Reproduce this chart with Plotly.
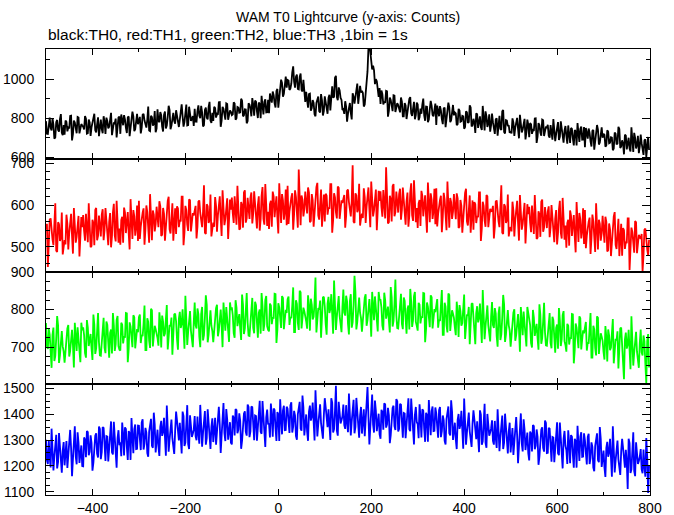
import plotly.graph_objects as go
from plotly.subplots import make_subplots

# Time axis: counts every 2 s.
# "_a" lists hold the values at t = -500, -496, ..., 796; "_b" lists those at t + 2 s.
t_start = -500
t_step = 2

th0_a = [
    785, 719, 803, 737, 767, 701, 791, 731, 821, 713,
    716, 782, 752, 812, 686, 788, 740, 806, 722, 770,
    757, 811, 721, 793, 709, 781, 823, 727, 805, 739,
    744, 810, 720, 786, 756, 828, 738, 774, 702, 804,
    720, 792, 816, 750, 804, 708, 786, 810, 744, 822,
    794, 722, 818, 788, 752, 860, 734, 806, 770, 728,
    846, 780, 816, 732, 834, 762, 864, 744, 810, 786,
    841, 775, 793, 871, 757, 829, 763, 859, 787, 811,
    848, 782, 866, 800, 830, 764, 854, 794, 884, 776,
    786, 852, 822, 882, 756, 858, 810, 876, 792, 840,
    816, 882, 792, 858, 828, 900, 810, 846, 774, 876,
    849, 903, 813, 885, 801, 873, 915, 819, 897, 831,
    826, 903, 937, 876, 940, 854, 942, 981, 925, 1013,
    996, 945, 978, 1066, 957, 1024, 948, 1029, 937, 936,
    935, 854, 926, 852, 878, 810, 898, 836, 924, 814,
    912, 854, 904, 840, 964, 910, 1017, 892, 943, 894,
    846, 887, 782, 844, 828, 928, 875, 941, 874, 966,
    940, 860, 930, 1040, 1180, 1085, 1070, 975, 990, 910,
    873, 924, 886, 940, 808, 906, 855, 918, 832, 877,
    854, 906, 810, 878, 796, 866, 908, 812, 884, 816,
    871, 805, 823, 901, 787, 859, 793, 889, 817, 841,
    766, 838, 862, 796, 850, 754, 832, 856, 790, 868,
    830, 764, 848, 782, 812, 746, 836, 776, 866, 758,
    797, 725, 821, 791, 755, 863, 737, 809, 773, 731,
    824, 758, 794, 710, 812, 740, 842, 722, 788, 764,
    733, 799, 709, 775, 745, 817, 727, 763, 691, 793,
    703, 769, 739, 799, 673, 775, 727, 793, 709, 757,
    766, 700, 718, 796, 682, 754, 688, 784, 712, 736,
    709, 763, 673, 745, 661, 733, 775, 679, 757, 691,
    651, 723, 747, 681, 735, 639, 717, 741, 675, 753,
    720, 654, 738, 672, 702, 636, 726, 666, 756, 648,
    687, 615, 711, 681, 645, 753, 627, 699, 663, 621,
    716, 650, 686, 602, 704,
]
th0_b = [
    720, 775, 750, 800, 695, 780, 740, 795, 725, 765,
    788, 733, 748, 813, 718, 778, 723, 803, 743, 763,
    743, 798, 723, 778, 753, 813, 738, 768, 708, 793,
    723, 783, 803, 748, 793, 713, 778, 798, 743, 808,
    819, 764, 794, 724, 809, 749, 834, 734, 789, 769,
    807, 752, 822, 767, 792, 737, 812, 762, 837, 747,
    787, 832, 757, 817, 747, 807, 842, 762, 827, 772,
    815, 755, 835, 810, 780, 870, 765, 825, 795, 760,
    783, 838, 813, 863, 758, 843, 803, 858, 788, 828,
    858, 803, 818, 883, 788, 848, 793, 873, 813, 833,
    820, 875, 800, 855, 830, 890, 815, 845, 785, 870,
    810, 870, 890, 835, 880, 800, 865, 885, 830, 895,
    927, 880, 918, 855, 950, 900, 998, 910, 975, 957,
    993, 952, 1035, 988, 1013, 950, 1012, 945, 997, 883,
    893, 924, 839, 893, 820, 878, 911, 829, 892, 837,
    872, 823, 920, 916, 906, 1008, 908, 958, 905, 842,
    822, 858, 824, 878, 794, 911, 905, 978, 908, 932,
    930, 870, 1010, 1160, 1140, 1050, 1045, 1000, 935, 955,
    942, 871, 879, 938, 838, 894, 836, 916, 852, 868,
    830, 885, 810, 865, 840, 900, 825, 855, 795, 880,
    790, 850, 870, 815, 860, 780, 845, 865, 810, 875,
    865, 810, 840, 770, 855, 795, 880, 780, 835, 815,
    825, 770, 840, 785, 810, 755, 830, 780, 855, 765,
    780, 825, 750, 810, 740, 800, 835, 755, 820, 765,
    780, 720, 800, 775, 745, 835, 730, 790, 760, 725,
    722, 777, 752, 802, 697, 782, 742, 797, 727, 767,
    775, 720, 735, 800, 705, 765, 710, 790, 730, 750,
    710, 765, 690, 745, 720, 780, 705, 735, 675, 760,
    670, 730, 750, 695, 740, 660, 725, 745, 690, 755,
    750, 695, 725, 655, 740, 680, 765, 665, 720, 700,
    715, 660, 730, 675, 700, 645, 720, 670, 745, 655,
    670, 715, 640, 700, 630, 690, 725, 645, 710, 655,
    672, 612, 692, 667, 637,
]

th1_a = [
    543, 452, 565, 538, 504, 604, 488, 554, 521, 482,
    516, 577, 494, 555, 527, 593, 510, 544, 477, 571,
    576, 515, 532, 604, 499, 565, 504, 593, 526, 549,
    577, 516, 593, 532, 560, 499, 582, 527, 610, 510,
    505, 572, 594, 533, 583, 494, 566, 588, 527, 599,
    610, 549, 582, 505, 599, 532, 626, 516, 577, 554,
    559, 609, 526, 593, 515, 582, 620, 532, 604, 543,
    531, 592, 564, 620, 504, 598, 553, 614, 537, 581,
    586, 520, 608, 581, 547, 647, 531, 597, 564, 525,
    558, 619, 536, 597, 569, 635, 552, 586, 519, 613,
    618, 557, 574, 646, 541, 607, 546, 635, 568, 591,
    617, 556, 633, 572, 600, 539, 622, 567, 650, 550,
    543, 610, 632, 571, 621, 532, 604, 626, 565, 637,
    646, 585, 618, 541, 635, 568, 685, 552, 613, 590,
    592, 642, 559, 626, 548, 615, 653, 565, 637, 576,
    561, 622, 594, 650, 534, 628, 583, 644, 567, 611,
    612, 546, 634, 607, 573, 695, 557, 623, 590, 551,
    579, 640, 557, 618, 590, 656, 573, 607, 540, 634,
    633, 572, 589, 690, 556, 622, 561, 650, 583, 606,
    626, 565, 642, 581, 609, 548, 631, 576, 659, 559,
    545, 612, 634, 573, 623, 534, 606, 628, 567, 639,
    640, 579, 612, 535, 629, 562, 656, 546, 607, 584,
    578, 628, 545, 612, 534, 601, 639, 551, 623, 562,
    541, 602, 574, 630, 514, 608, 563, 624, 547, 591,
    586, 520, 608, 581, 547, 647, 531, 597, 564, 525,
    547, 608, 525, 586, 558, 624, 541, 575, 508, 602,
    596, 535, 552, 624, 519, 585, 524, 613, 546, 569,
    584, 523, 600, 539, 567, 506, 589, 534, 617, 517,
    498, 565, 587, 526, 576, 487, 559, 581, 520, 592,
    588, 527, 560, 483, 577, 510, 604, 494, 555, 532,
    522, 572, 489, 556, 478, 545, 583, 495, 567, 506,
    479, 540, 512, 568, 445, 546, 501, 562, 485, 529,
    519, 442, 541, 514, 480,
]
th1_b = [
    555, 505, 568, 518, 541, 491, 559, 514, 582, 500,
    506, 556, 533, 579, 484, 561, 524, 574, 511, 547,
    538, 579, 511, 566, 502, 557, 588, 516, 575, 525,
    590, 540, 567, 504, 581, 526, 603, 513, 563, 544,
    564, 510, 582, 560, 532, 614, 519, 573, 546, 514,
    519, 574, 592, 542, 583, 510, 569, 587, 537, 596,
    547, 597, 529, 579, 556, 610, 542, 570, 515, 592,
    597, 547, 561, 620, 534, 588, 538, 611, 556, 575,
    598, 548, 611, 561, 584, 534, 602, 557, 625, 543,
    548, 598, 575, 621, 526, 603, 566, 616, 553, 589,
    580, 621, 553, 608, 544, 599, 630, 558, 617, 567,
    630, 580, 607, 544, 621, 566, 643, 553, 603, 584,
    602, 548, 620, 598, 570, 652, 557, 611, 584, 552,
    555, 610, 628, 578, 619, 546, 605, 623, 573, 632,
    580, 630, 562, 612, 589, 643, 575, 603, 548, 625,
    627, 577, 591, 650, 564, 618, 568, 641, 586, 605,
    624, 574, 637, 587, 610, 560, 628, 583, 651, 569,
    569, 619, 596, 642, 547, 624, 587, 637, 574, 610,
    595, 636, 568, 623, 559, 614, 645, 573, 632, 582,
    639, 589, 616, 553, 630, 575, 652, 562, 612, 593,
    604, 550, 622, 600, 572, 654, 559, 613, 586, 554,
    549, 604, 622, 572, 613, 540, 599, 617, 567, 626,
    566, 616, 548, 598, 575, 629, 561, 589, 534, 611,
    607, 557, 571, 630, 544, 598, 548, 621, 566, 585,
    598, 548, 611, 561, 584, 534, 602, 557, 625, 543,
    537, 587, 564, 610, 515, 592, 555, 605, 542, 578,
    558, 599, 531, 586, 522, 577, 608, 536, 595, 545,
    597, 547, 574, 511, 588, 533, 610, 520, 570, 551,
    557, 503, 575, 553, 525, 607, 512, 566, 539, 507,
    497, 552, 570, 520, 561, 488, 547, 565, 515, 574,
    510, 560, 492, 542, 519, 573, 505, 533, 478, 555,
    545, 495, 509, 568, 482, 536, 486, 559, 504, 523,
    531, 481, 544, 494, 517,
]

th2_a = [
    764, 695, 733, 645, 752, 677, 783, 658, 727, 702,
    659, 734, 759, 690, 746, 646, 728, 753, 684, 765,
    753, 684, 772, 703, 735, 666, 760, 697, 791, 678,
    722, 778, 684, 759, 672, 747, 791, 690, 772, 703,
    691, 760, 729, 791, 660, 766, 716, 785, 697, 748,
    780, 711, 729, 811, 692, 767, 698, 798, 723, 748,
    724, 793, 699, 768, 736, 812, 718, 755, 680, 787,
    769, 693, 794, 762, 725, 837, 706, 781, 743, 700,
    819, 750, 788, 700, 807, 732, 838, 713, 782, 757,
    713, 788, 813, 744, 800, 700, 782, 807, 738, 819,
    806, 737, 825, 756, 788, 719, 813, 750, 844, 731,
    775, 831, 737, 812, 725, 800, 844, 743, 825, 756,
    742, 811, 780, 842, 711, 817, 767, 836, 748, 799,
    828, 759, 777, 859, 740, 815, 746, 846, 771, 796,
    769, 838, 744, 813, 781, 885, 763, 800, 725, 832,
    809, 733, 834, 802, 765, 877, 746, 821, 783, 740,
    853, 784, 822, 734, 841, 766, 890, 747, 816, 791,
    741, 816, 841, 772, 828, 728, 810, 835, 766, 847,
    826, 757, 845, 776, 808, 739, 833, 770, 880, 751,
    786, 842, 748, 823, 736, 811, 855, 754, 836, 767,
    744, 813, 782, 844, 713, 819, 769, 838, 750, 801,
    821, 752, 770, 852, 733, 808, 739, 839, 764, 789,
    752, 821, 727, 796, 764, 840, 746, 783, 708, 815,
    784, 708, 809, 777, 740, 852, 721, 796, 758, 715,
    820, 751, 789, 701, 808, 733, 839, 714, 783, 758,
    701, 776, 801, 732, 788, 688, 770, 795, 726, 807,
    780, 711, 799, 730, 762, 693, 787, 724, 818, 705,
    735, 791, 697, 772, 685, 760, 804, 703, 785, 716,
    688, 757, 726, 788, 657, 763, 713, 782, 694, 745,
    760, 691, 709, 791, 672, 747, 678, 778, 703, 728,
    687, 756, 662, 731, 699, 775, 681, 718, 643, 750,
    714, 615, 739, 707, 670, 782, 651, 726, 688, 645,
    747, 678, 716, 605, 735,
]
th2_b = [
    703, 748, 673, 733, 663, 723, 758, 678, 743, 688,
    695, 750, 675, 730, 705, 765, 690, 720, 660, 745,
    732, 672, 752, 727, 697, 787, 682, 742, 712, 677,
    753, 698, 768, 713, 738, 683, 758, 708, 783, 693,
    765, 710, 725, 790, 695, 755, 700, 780, 720, 740,
    787, 732, 762, 692, 777, 717, 802, 702, 757, 737,
    704, 764, 784, 729, 774, 694, 759, 779, 724, 789,
    721, 776, 751, 801, 696, 781, 741, 796, 726, 766,
    758, 803, 728, 788, 718, 778, 813, 733, 798, 743,
    749, 804, 729, 784, 759, 819, 744, 774, 714, 799,
    785, 725, 805, 780, 750, 840, 735, 795, 765, 730,
    806, 751, 821, 766, 791, 736, 811, 761, 836, 746,
    816, 761, 776, 841, 746, 806, 751, 831, 771, 791,
    835, 780, 810, 740, 825, 765, 850, 750, 805, 785,
    749, 809, 829, 774, 819, 739, 804, 824, 769, 834,
    761, 816, 791, 841, 736, 821, 781, 836, 766, 806,
    792, 837, 762, 822, 752, 812, 847, 767, 832, 777,
    777, 832, 757, 812, 787, 847, 772, 802, 742, 827,
    805, 745, 825, 800, 770, 860, 755, 815, 785, 750,
    817, 762, 832, 777, 802, 747, 822, 772, 847, 757,
    818, 763, 778, 843, 748, 808, 753, 833, 773, 793,
    828, 773, 803, 733, 818, 758, 843, 743, 798, 778,
    732, 792, 812, 757, 802, 722, 787, 807, 752, 817,
    736, 791, 766, 816, 711, 796, 756, 811, 741, 781,
    759, 804, 729, 789, 719, 779, 814, 734, 799, 744,
    737, 792, 717, 772, 747, 807, 732, 762, 702, 787,
    759, 699, 779, 754, 724, 814, 709, 769, 739, 704,
    766, 711, 781, 726, 751, 696, 771, 721, 796, 706,
    762, 707, 722, 787, 692, 752, 697, 777, 717, 737,
    767, 712, 742, 672, 757, 697, 782, 682, 737, 717,
    667, 727, 747, 692, 737, 657, 722, 742, 687, 752,
    666, 721, 696, 746, 641, 726, 686, 741, 671, 711,
    686, 731, 656, 716, 646,
]

th3_a = [
    1301, 1207, 1233, 1344, 1182, 1284, 1190, 1327, 1224, 1259,
    1202, 1296, 1253, 1339, 1160, 1305, 1236, 1330, 1211, 1279,
    1198, 1301, 1335, 1241, 1318, 1181, 1292, 1326, 1232, 1343,
    1253, 1347, 1219, 1313, 1270, 1372, 1244, 1296, 1193, 1338,
    1291, 1368, 1240, 1343, 1223, 1326, 1385, 1249, 1360, 1266,
    1355, 1261, 1380, 1286, 1329, 1235, 1363, 1278, 1406, 1252,
    1340, 1238, 1374, 1332, 1280, 1434, 1255, 1357, 1306, 1246,
    1410, 1316, 1367, 1248, 1393, 1290, 1435, 1265, 1359, 1324,
    1393, 1299, 1325, 1436, 1274, 1376, 1282, 1419, 1316, 1351,
    1292, 1386, 1343, 1429, 1250, 1395, 1326, 1420, 1301, 1369,
    1283, 1386, 1420, 1326, 1403, 1266, 1377, 1411, 1317, 1428,
    1333, 1427, 1299, 1393, 1350, 1452, 1324, 1376, 1273, 1418,
    1364, 1441, 1313, 1416, 1296, 1399, 1458, 1322, 1433, 1339,
    1421, 1327, 1446, 1352, 1395, 1301, 1429, 1344, 1472, 1318,
    1399, 1297, 1433, 1391, 1339, 1493, 1314, 1416, 1365, 1305,
    1462, 1368, 1419, 1300, 1445, 1342, 1510, 1317, 1411, 1376,
    1437, 1343, 1369, 1480, 1318, 1420, 1326, 1463, 1360, 1395,
    1325, 1419, 1376, 1505, 1283, 1428, 1359, 1453, 1334, 1402,
    1305, 1408, 1442, 1348, 1425, 1288, 1399, 1433, 1339, 1450,
    1343, 1437, 1309, 1403, 1360, 1462, 1334, 1386, 1283, 1428,
    1361, 1438, 1310, 1413, 1293, 1396, 1455, 1319, 1430, 1336,
    1403, 1309, 1428, 1334, 1377, 1283, 1411, 1326, 1454, 1300,
    1367, 1265, 1401, 1359, 1307, 1461, 1282, 1384, 1333, 1273,
    1415, 1321, 1372, 1253, 1398, 1295, 1440, 1270, 1364, 1329,
    1376, 1282, 1308, 1419, 1257, 1359, 1265, 1402, 1299, 1334,
    1252, 1346, 1303, 1389, 1210, 1355, 1286, 1380, 1261, 1329,
    1221, 1324, 1358, 1264, 1341, 1204, 1315, 1349, 1255, 1366,
    1250, 1344, 1216, 1310, 1267, 1369, 1241, 1293, 1190, 1335,
    1261, 1338, 1210, 1313, 1193, 1296, 1355, 1219, 1330, 1236,
    1299, 1205, 1324, 1230, 1273, 1179, 1307, 1222, 1350, 1196,
    1259, 1157, 1293, 1251, 1199, 1353, 1174, 1276, 1225, 1165,
    1305, 1211, 1262, 1110, 1288, 1185, 1330, 1160, 1254, 1219,
    1265, 1171, 1197, 1308, 1095,
]
th3_b = [
    1222, 1299, 1194, 1271, 1236, 1320, 1215, 1257, 1173, 1292,
    1276, 1192, 1304, 1269, 1227, 1353, 1206, 1290, 1248, 1199,
    1310, 1233, 1331, 1254, 1289, 1212, 1317, 1247, 1352, 1226,
    1350, 1273, 1315, 1217, 1336, 1252, 1371, 1231, 1308, 1280,
    1237, 1321, 1349, 1272, 1335, 1223, 1314, 1342, 1265, 1356,
    1305, 1368, 1263, 1347, 1249, 1333, 1382, 1270, 1361, 1284,
    1274, 1351, 1316, 1386, 1239, 1358, 1302, 1379, 1281, 1337,
    1375, 1298, 1319, 1410, 1277, 1361, 1284, 1396, 1312, 1340,
    1314, 1391, 1286, 1363, 1328, 1412, 1307, 1349, 1265, 1384,
    1366, 1282, 1394, 1359, 1317, 1443, 1296, 1380, 1338, 1289,
    1395, 1318, 1416, 1339, 1374, 1297, 1402, 1332, 1437, 1311,
    1430, 1353, 1395, 1297, 1416, 1332, 1451, 1311, 1388, 1360,
    1310, 1394, 1422, 1345, 1408, 1296, 1387, 1415, 1338, 1429,
    1371, 1434, 1329, 1413, 1315, 1399, 1448, 1336, 1427, 1350,
    1333, 1410, 1375, 1445, 1298, 1417, 1361, 1438, 1340, 1396,
    1427, 1350, 1371, 1462, 1329, 1413, 1336, 1448, 1364, 1392,
    1358, 1435, 1330, 1407, 1372, 1456, 1351, 1393, 1309, 1428,
    1399, 1315, 1427, 1392, 1350, 1476, 1329, 1413, 1371, 1322,
    1417, 1340, 1438, 1361, 1396, 1319, 1424, 1354, 1459, 1333,
    1440, 1363, 1405, 1307, 1426, 1342, 1461, 1321, 1398, 1370,
    1307, 1391, 1419, 1342, 1405, 1293, 1384, 1412, 1335, 1426,
    1353, 1416, 1311, 1395, 1297, 1381, 1430, 1318, 1409, 1332,
    1301, 1378, 1343, 1413, 1266, 1385, 1329, 1406, 1308, 1364,
    1380, 1303, 1324, 1415, 1282, 1366, 1289, 1401, 1317, 1345,
    1297, 1374, 1269, 1346, 1311, 1395, 1290, 1332, 1248, 1367,
    1326, 1242, 1354, 1319, 1277, 1403, 1256, 1340, 1298, 1249,
    1333, 1256, 1354, 1277, 1312, 1235, 1340, 1270, 1375, 1249,
    1347, 1270, 1312, 1214, 1333, 1249, 1368, 1228, 1305, 1277,
    1207, 1291, 1319, 1242, 1305, 1193, 1284, 1312, 1235, 1326,
    1249, 1312, 1207, 1291, 1193, 1277, 1326, 1214, 1305, 1228,
    1193, 1270, 1235, 1305, 1158, 1277, 1221, 1298, 1200, 1256,
    1270, 1193, 1214, 1305, 1172, 1256, 1179, 1291, 1207, 1235,
    1186, 1263, 1158, 1235, 1200,
]

colors = ["#000000", "#ff0000", "#00ff00", "#0000ff"]
y_ranges = [[591, 1155], [440, 710], [602, 900], [1087, 1517]]
y_dticks = [200, 100, 100, 100]
y_minor = [100, 20, 25, 25]
domains = [[0.7534, 1.0], [0.5, 0.7534], [0.2489, 0.5], [0.0, 0.2489]]


def merge(a, b):
    out = []
    for va, vb in zip(a, b):
        out.append(va)
        out.append(vb)
    return out


series = [merge(th0_a, th0_b), merge(th1_a, th1_b),
          merge(th2_a, th2_b), merge(th3_a, th3_b)]
times = [t_start + t_step * i for i in range(len(series[0]))]

fig = make_subplots(rows=4, cols=1, shared_xaxes=True, vertical_spacing=0)

for k, vals in enumerate(series):
    fig.add_trace(
        go.Scatter(x=times, y=vals, mode="lines",
                   line=dict(color=colors[k], width=1.8),
                   hoverinfo="skip", showlegend=False),
        row=k + 1, col=1)

font_family = "Liberation Sans, Arial, sans-serif"

for k in range(4):
    fig.update_xaxes(
        range=[-500, 800], dtick=200, tick0=0,
        ticks="inside", ticklen=6, tickwidth=1, tickcolor="black",
        minor=dict(ticks="inside", ticklen=3, dtick=100, tick0=0, tickcolor="black"),
        showline=True, linecolor="black", linewidth=1, mirror="allticks",
        showgrid=False, zeroline=False, automargin=False,
        showticklabels=(k == 3), ticklabelstandoff=0,
        tickfont=dict(family=font_family, size=14, color="black"),
        row=k + 1, col=1)
    fig.update_yaxes(
        range=y_ranges[k], dtick=y_dticks[k], tick0=0, domain=domains[k],
        ticks="inside", ticklen=8, tickwidth=1, tickcolor="black",
        minor=dict(ticks="inside", ticklen=4, dtick=y_minor[k], tick0=0, tickcolor="black"),
        showline=True, linecolor="black", linewidth=1, mirror="allticks",
        showgrid=False, zeroline=False, automargin=False,
        ticklabelstandoff=8,
        tickfont=dict(family=font_family, size=14, color="black"),
        row=k + 1, col=1)

fig.update_layout(
    width=674, height=515,
    margin=dict(l=46, r=24, t=49, b=20, autoexpand=False),
    plot_bgcolor="white", paper_bgcolor="white",
    showlegend=False,
    font=dict(family=font_family, size=14, color="black"),
    annotations=[
        dict(text="WAM T0 Lightcurve (y-axis: Counts)", x=0.5, y=1.0717,
             xref="paper", yref="paper", xanchor="center", yanchor="middle",
             showarrow=False, font=dict(family=font_family, size=14, color="black")),
        dict(text="black:TH0, red:TH1, green:TH2, blue:TH3 ,1bin = 1s", x=0.0, y=1.0314,
             xref="paper", yref="paper", xanchor="left", yanchor="middle",
             showarrow=False, font=dict(family=font_family, size=15.5, color="black")),
    ],
)

fig.write_html("out.html",
               config={"displayModeBar": False},
               post_script="document.body.style.margin='0';document.body.style.overflow='hidden';")
